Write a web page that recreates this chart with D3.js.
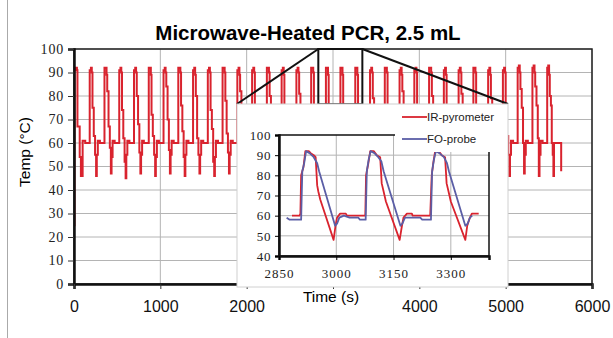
<!DOCTYPE html>
<html>
<head>
<meta charset="utf-8">
<script src="https://cdn.jsdelivr.net/npm/d3@7"></script>
<style>
  body { margin: 0; background: #fff; }
  svg { display: block; }
</style>
</head>
<body>
<div id="chart"></div>
<script>
// main trace (IR-pyrometer), one row per PCR cycle: [time s, temp °C]
const mainSeries = [
  [0,25],[6,91],[22,92],[34,91],[40,67],[60,67],[66,54],[80,46],[90,46],[100,61],[125,61],[130,60],
  [174,60],[182,91],[196,92],[206,90],[214,75],[229,63],[244,55],[256,46],[264,55],[276,61],[296,61],[300,60],
  [345,60],[353,92],[367,92],[377,89],[385,82],[400,67],[415,58],[427,47],[435,54],[447,61],[467,61],[471,60],
  [516,60],[524,91],[538,92],[548,90],[556,74],[571,62],[586,52],[598,45],[606,55],[618,61],[638,61],[642,60],
  [687,60],[695,91],[709,92],[719,90],[727,80],[742,68],[757,56],[769,47],[777,55],[789,61],[809,60],[813,60],
  [858,60],[866,92],[880,92],[890,89],[898,72],[913,63],[928,55],[940,46],[948,54],[960,61],[980,61],[984,60],
  [1029,60],[1037,91],[1051,92],[1061,90],[1069,84],[1084,70],[1099,57],[1111,47],[1119,55],[1131,61],[1151,61],[1155,60],
  [1200,60],[1208,92],[1222,92],[1232,90],[1240,76],[1255,65],[1270,54],[1282,46],[1290,55],[1302,61],[1322,61],[1326,60],
  [1371,60],[1379,91],[1393,92],[1403,89],[1411,80],[1426,62],[1441,55],[1453,47],[1461,55],[1473,61],[1493,61],[1497,60],
  [1542,60],[1550,91],[1564,92],[1574,90],[1582,74],[1597,66],[1612,52],[1624,46],[1632,54],[1644,61],[1664,61],[1668,60],
  [1713,60],[1721,92],[1735,92],[1745,90],[1753,78],[1768,64],[1783,56],[1795,47],[1803,55],[1815,61],[1835,61],[1839,60],
  [1884,60],[1892,91],[1906,92],[1916,89],[1924,82],[1939,67],[1954,55],[1966,46],[1974,55],[1986,61],[2006,61],[2010,60],
  [2055,60],[2063,91],[2077,92],[2087,90],[2095,75],[2110,63],[2125,54],[2137,46],[2145,55],[2157,61],[2177,61],[2181,60],
  [2226,60],[2234,92],[2248,92],[2258,90],[2266,80],[2281,66],[2296,56],[2308,47],[2316,55],[2328,61],[2348,61],[2352,60],
  [2397,60],[2405,91],[2419,92],[2429,89],[2437,73],[2452,62],[2467,53],[2479,46],[2487,54],[2499,61],[2519,61],[2523,60],
  [2568,60],[2576,91],[2590,92],[2600,90],[2608,81],[2623,68],[2638,57],[2650,47],[2658,55],[2670,61],[2690,61],[2694,60],
  [2739,60],[2747,92],[2761,92],[2771,90],[2779,76],[2794,64],[2809,55],[2821,46],[2829,55],[2841,61],[2861,61],[2865,60],
  [2910,60],[2918,92],[2932,92],[2942,89],[2950,72],[2965,63],[2980,55],[2992,48],[3000,55],[3012,61],[3032,61],[3036,60],
  [3078,60],[3086,92],[3100,92],[3110,89],[3118,72],[3133,62],[3148,54],[3160,48],[3168,55],[3180,61],[3200,61],[3204,60],
  [3250,60],[3258,92],[3272,92],[3282,89],[3290,72],[3305,63],[3320,55],[3332,48],[3340,55],[3352,61],[3372,61],[3376,60],
  [3421,60],[3429,91],[3443,92],[3453,90],[3461,79],[3476,66],[3491,56],[3503,47],[3511,55],[3523,61],[3543,61],[3547,60],
  [3592,60],[3600,92],[3614,92],[3624,90],[3632,74],[3647,63],[3662,54],[3674,46],[3682,55],[3694,61],[3714,61],[3718,60],
  [3763,60],[3771,91],[3785,92],[3795,89],[3803,82],[3818,68],[3833,57],[3845,47],[3853,55],[3865,61],[3885,61],[3889,60],
  [3934,60],[3942,91],[3956,92],[3966,90],[3974,75],[3989,64],[4004,55],[4016,46],[4024,54],[4036,61],[4056,61],[4060,60],
  [4105,60],[4113,92],[4127,92],[4137,90],[4145,80],[4160,66],[4175,56],[4187,47],[4195,55],[4207,61],[4227,61],[4231,60],
  [4276,60],[4284,91],[4298,92],[4308,89],[4316,73],[4331,62],[4346,53],[4358,46],[4366,55],[4378,61],[4398,61],[4402,60],
  [4447,60],[4455,91],[4469,92],[4479,90],[4487,81],[4502,67],[4517,57],[4529,47],[4537,55],[4549,61],[4569,61],[4573,60],
  [4618,60],[4626,92],[4640,92],[4650,90],[4658,76],[4673,64],[4688,55],[4700,46],[4708,55],[4720,61],[4740,61],[4744,60],
  [4789,60],[4797,91],[4811,92],[4821,89],[4829,79],[4844,65],[4859,54],[4871,47],[4879,54],[4891,61],[4911,61],[4915,60],
  [4960,60],[4968,91],[4982,92],[4992,90],[5000,74],[5015,63],[5030,55],[5042,46],[5050,55],[5062,61],[5082,61],[5086,60],
  [5131,60],[5139,92],[5153,93],[5163,90],[5171,83],[5186,75],[5201,60],[5213,47],[5221,55],[5233,61],[5253,61],[5257,60],
  [5302,60],[5310,92],[5324,93],[5334,90],[5342,84],[5357,76],[5372,62],[5384,46],[5392,55],[5404,61],[5424,61],[5428,60],
  [5473,60],[5481,92],[5493,93],[5503,89],[5511,80],[5524,76],[5534,60],[5545,55],[5553,46],[5560,60],[5636,60],[5643,48]
]

// inset: three cycles, both sensors
const irSeries = [
  [2884,60],[2904,60],[2906,61],[2908,80],[2914,84],[2919,92],[2928,92],[2933,91],[2941,90],[2946,89],[2950,75],[2953,72],
  [2958,68],[2993,48],[2998,55],[3002,59],[3010,61],[3025,61],[3028,60],[3076,60],[3078,80],[3084,86],[3089,92],
  [3098,92],[3106,90],[3115,89],[3119,76],[3124,72],[3130,67],[3166,48],[3172,55],[3176,59],[3185,61],[3198,61],
  [3200,60],[3246,60],[3250,80],[3254,86],[3259,92],[3268,92],[3276,90],[3285,89],[3289,76],[3294,72],[3300,67],
  [3338,48],[3343,55],[3348,58],[3355,61],[3373,61]
]
const foSeries = [
  [2870,59],[2878,58],[2908,58],[2911,82],[2916,86],[2921,92],[2930,91],[2941,89],[2950,86],[2955,82],[2997,55],
  [3002,56],[3008,59],[3020,60],[3035,59],[3058,59],[3062,58],[3077,58],[3080,82],[3085,88],[3090,92],[3100,91],
  [3110,89],[3118,87],[3124,82],[3168,55],[3173,56],[3180,59],[3220,59],[3225,58],[3248,58],[3251,82],[3256,88],
  [3261,92],[3270,91],[3282,89],[3290,86],[3295,82],[3338,55],[3344,56],[3350,59],[3356,60]
]

const mainXTicks = [0, 1000, 2000, 3000, 4000, 5000, 6000]
const mainXHidden = [3000]   // label sits under the axis title in the original
const mainYTicks = [0, 10, 20, 30, 40, 50, 60, 70, 80, 90, 100]
const insetXTicks = [2850, 3000, 3150, 3300]
const insetYTicks = [40, 50, 60, 70, 80, 90, 100]
const zoomBox = { x0: 2830, x1: 3340, y0: 76.5, y1: 100 }
const legendItems = [
  { label: 'IR-pyrometer', color: '#d9232e' },
  { label: 'FO-probe', color: '#5b5ea6' }
]

const W = 613, H = 338
const SANS = '"Liberation Sans", Arial, sans-serif'
const SERIF = '"Liberation Serif", "Times New Roman", serif'
const GRID = '#b4b4b4'

const svg = d3.select('#chart').append('svg')
  .attr('width', W).attr('height', H)

svg.append('line')
  .attr('x1', 7.5).attr('x2', 7.5).attr('y1', 0).attr('y2', H)
  .attr('stroke', '#aaa').attr('stroke-width', 1)

svg.append('text')
  .attr('x', 308).attr('y', 40)
  .attr('text-anchor', 'middle')
  .attr('font-family', SANS).attr('font-weight', 'bold').attr('font-size', 20.5)
  .text('Microwave-Heated PCR, 2.5 mL')

// ---- main plot
const x = d3.scaleLinear().domain([0, 6000]).range([74, 592])
const y = d3.scaleLinear().domain([0, 100]).range([284, 49])

const main = svg.append('g')

main.append('g')
  .selectAll('line.h')
  .data(mainYTicks)
  .join('line')
  .attr('x1', x(0)).attr('x2', x(6000))
  .attr('y1', d => y(d)).attr('y2', d => y(d))
  .attr('stroke', GRID).attr('stroke-width', 1)

main.append('g')
  .selectAll('line.v')
  .data(mainXTicks)
  .join('line')
  .attr('x1', d => x(d)).attr('x2', d => x(d))
  .attr('y1', y(0)).attr('y2', y(100))
  .attr('stroke', GRID).attr('stroke-width', 1)

main.append('defs').append('clipPath').attr('id', 'clipMain')
  .append('rect')
  .attr('x', x(0)).attr('y', y(100))
  .attr('width', x(6000) - x(0)).attr('height', y(0) - y(100))

// logger holds each reading until the next one -> stepped trace
const line = d3.line().curve(d3.curveStepAfter).x(d => x(d[0])).y(d => y(d[1]))

main.append('path')
  .datum(mainSeries)
  .attr('clip-path', 'url(#clipMain)')
  .attr('fill', 'none')
  .attr('stroke', '#d9232e')
  .attr('stroke-width', 2)
  .attr('d', line)

// frame: top/right thin, left/bottom heavier
main.append('rect')
  .attr('x', x(0)).attr('y', y(100))
  .attr('width', x(6000) - x(0)).attr('height', y(0) - y(100))
  .attr('fill', 'none').attr('stroke', '#222').attr('stroke-width', 1.5)

const yAxis = main.append('g')
  .attr('transform', `translate(${x(0)},0)`)
  .call(d3.axisLeft(y).tickValues(mainYTicks).tickSize(6).tickPadding(4))
yAxis.select('.domain').attr('stroke', '#111').attr('stroke-width', 2.5)
yAxis.selectAll('.tick line').attr('stroke', '#333')
yAxis.selectAll('text')
  .attr('font-family', SERIF).attr('font-size', 14).attr('letter-spacing', 0.8).attr('fill', '#222')

const xAxis = main.append('g')
  .attr('transform', `translate(0,${y(0)})`)
  .call(d3.axisBottom(x).tickValues(mainXTicks)
    .tickFormat(d => mainXHidden.includes(d) ? '' : d3.format('d')(d))
    .tickSize(5).tickPadding(12))
xAxis.select('.domain').attr('stroke', '#111').attr('stroke-width', 2.5)
xAxis.selectAll('.tick line').attr('stroke', '#333')
xAxis.selectAll('text')
  .attr('font-family', SANS).attr('font-size', 16).attr('fill', '#111')

svg.append('text')
  .attr('x', 331).attr('y', 302)
  .attr('text-anchor', 'middle')
  .attr('font-family', SANS).attr('font-size', 15.5)
  .text('Time (s)')

svg.append('text')
  .attr('transform', 'translate(30,152) rotate(-90)')
  .attr('text-anchor', 'middle')
  .attr('font-family', SANS).attr('font-size', 15.5)
  .text('Temp (°C)')

// ---- zoom marker and connector lines
const zx0 = x(zoomBox.x0), zx1 = x(zoomBox.x1)
const zy0 = y(zoomBox.y1), zy1 = y(zoomBox.y0)

const inset = { left: 237, top: 104, right: 508, bottom: 287 }

svg.append('rect')
  .attr('x', zx0).attr('y', zy0)
  .attr('width', zx1 - zx0).attr('height', zy1 - zy0)
  .attr('fill', 'none').attr('stroke', '#111').attr('stroke-width', 2)

svg.append('line')
  .attr('x1', zx0).attr('y1', zy0).attr('x2', inset.left).attr('y2', inset.top)
  .attr('stroke', '#111').attr('stroke-width', 2)
svg.append('line')
  .attr('x1', zx1).attr('y1', zy0).attr('x2', inset.right).attr('y2', inset.top)
  .attr('stroke', '#111').attr('stroke-width', 2)

// ---- inset
const ig = svg.append('g')

ig.append('rect')
  .attr('x', inset.left).attr('y', inset.top)
  .attr('width', inset.right - inset.left).attr('height', inset.bottom - inset.top)
  .attr('fill', '#fff').attr('stroke', '#d0d0d0').attr('stroke-width', 1)

const ix = d3.scaleLinear().domain([2850, 3400]).range([279, 489])
const iy = d3.scaleLinear().domain([40, 100]).range([256, 135])

ig.append('g')
  .selectAll('line')
  .data(insetYTicks.slice(1, -1))
  .join('line')
  .attr('x1', ix(2850)).attr('x2', ix(3400))
  .attr('y1', d => iy(d)).attr('y2', d => iy(d))
  .attr('stroke', GRID).attr('stroke-width', 1)

ig.append('g')
  .selectAll('line')
  .data(insetXTicks.slice(1))
  .join('line')
  .attr('x1', d => ix(d)).attr('x2', d => ix(d))
  .attr('y1', iy(40)).attr('y2', iy(100))
  .attr('stroke', GRID).attr('stroke-width', 1)

ig.append('defs').append('clipPath').attr('id', 'clipInset')
  .append('rect')
  .attr('x', ix(2850)).attr('y', iy(100))
  .attr('width', ix(3400) - ix(2850)).attr('height', iy(40) - iy(100))

const iline = d3.line().x(d => ix(d[0])).y(d => iy(d[1]))

ig.append('path')
  .datum(irSeries)
  .attr('clip-path', 'url(#clipInset)')
  .attr('fill', 'none').attr('stroke', legendItems[0].color)
  .attr('stroke-width', 1.8).attr('stroke-linejoin', 'round')
  .attr('d', iline)

ig.append('path')
  .datum(foSeries)
  .attr('clip-path', 'url(#clipInset)')
  .attr('fill', 'none').attr('stroke', legendItems[1].color)
  .attr('stroke-width', 1.8).attr('stroke-linejoin', 'round')
  .attr('d', iline)

// inset frame (top and right thin; legend box covers the top-right corner)
ig.append('rect')
  .attr('x', ix(2850)).attr('y', iy(100))
  .attr('width', ix(3400) - ix(2850)).attr('height', iy(40) - iy(100))
  .attr('fill', 'none').attr('stroke', '#111').attr('stroke-width', 1.5)

const iyAxis = ig.append('g')
  .attr('transform', `translate(${ix(2850)},0)`)
  .call(d3.axisLeft(iy).tickValues(insetYTicks).tickSize(4).tickPadding(4))
iyAxis.select('.domain').attr('stroke', '#111').attr('stroke-width', 2.5)
iyAxis.selectAll('text')
  .attr('font-family', SERIF).attr('font-size', 13).attr('letter-spacing', 0.6).attr('fill', '#222')

const ixAxis = ig.append('g')
  .attr('transform', `translate(0,${iy(40)})`)
  .call(d3.axisBottom(ix).tickValues(insetXTicks).tickFormat(d3.format('d')).tickSize(4).tickPadding(9))
ixAxis.select('.domain').attr('stroke', '#111').attr('stroke-width', 2.5)
ixAxis.selectAll('text')
  .attr('font-family', SERIF).attr('font-size', 13).attr('letter-spacing', 1).attr('fill', '#222')

// legend
const lg = ig.append('g')
lg.append('rect')
  .attr('x', 395).attr('y', inset.top + 1)
  .attr('width', inset.right - 396).attr('height', 47)
  .attr('fill', '#fff')

const li = lg.selectAll('g.item')
  .data(legendItems)
  .join('g')
  .attr('transform', (d, i) => `translate(402,${117 + i * 22})`)
li.append('line')
  .attr('x1', 0).attr('x2', 25)
  .attr('stroke', d => d.color).attr('stroke-width', 1.8)
li.append('text')
  .attr('x', 25).attr('y', 4)
  .attr('font-family', SANS).attr('font-size', 11.5).attr('fill', '#222')
  .text(d => d.label)
</script>
</body>
</html>
